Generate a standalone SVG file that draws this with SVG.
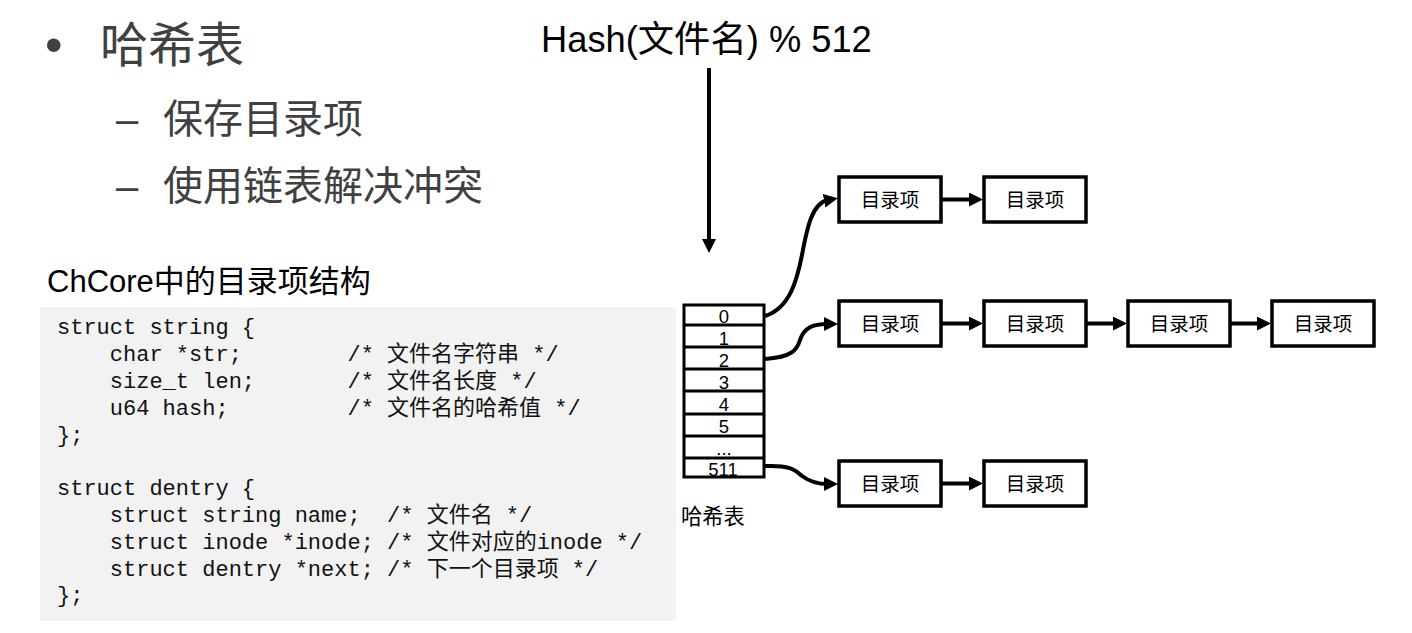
<svg xmlns="http://www.w3.org/2000/svg" width="1412" height="633" viewBox="0 0 1412 633">
<style>
.bul{font-family:"Liberation Sans","Noto Sans CJK SC",sans-serif;fill:#404040}
.sans{font-family:"Liberation Sans","Noto Sans CJK SC",sans-serif;fill:#000}
.code{font-family:"Liberation Mono","Noto Sans CJK SC",monospace;font-size:22px;fill:#111;white-space:pre}
.box{fill:#fff;stroke:#000;stroke-width:3.5}
.lbl{font-family:"Liberation Sans","Noto Sans CJK SC",sans-serif;font-size:19.5px;fill:#000;text-anchor:middle}
.cell{font-family:"Liberation Sans",sans-serif;font-size:18.5px;fill:#000;text-anchor:middle}
.conn{fill:none;stroke:#000;stroke-width:4}
</style>
<defs>
<marker id="ah" markerUnits="userSpaceOnUse" markerWidth="14" markerHeight="14" viewBox="0 0 14 14" refX="4" refY="7" orient="auto">
<path d="M0,0 L14,7 L0,14 z" fill="#000"/>
</marker>
</defs>
<rect width="1412" height="633" fill="#fff"/>

<g id="bullets">
<text class="bul" x="45" y="62" font-size="50">•</text>
<text class="bul" x="100" y="62" font-size="48">哈希表</text>
<text class="bul" x="116" y="133" font-size="40">–</text>
<text class="bul" x="163" y="133" font-size="40">保存目录项</text>
<text class="bul" x="116" y="200" font-size="40">–</text>
<text class="bul" x="163" y="200" font-size="40">使用链表解决冲突</text>
</g>

<g id="hash-formula">
<text class="sans" x="541" y="52" font-size="36.3">Hash(文件名) % 512</text>
</g>

<g id="code-title">
<text class="sans" x="47" y="292" font-size="31">ChCore中的目录项结构</text>
</g>

<g id="code-block">
<rect x="40" y="307" width="636" height="314" fill="#f2f2f2"/>
<text class="code" x="57" y="334">struct string {</text>
<text class="code" x="57" y="361">    char *str;        /* 文件名字符串 */</text>
<text class="code" x="57" y="388">    size_t len;       /* 文件名长度 */</text>
<text class="code" x="57" y="415">    u64 hash;         /* 文件名的哈希值 */</text>
<text class="code" x="57" y="442">};</text>
<text class="code" x="57" y="495">struct dentry {</text>
<text class="code" x="57" y="522">    struct string name;  /* 文件名 */</text>
<text class="code" x="57" y="549">    struct inode *inode; /* 文件对应的inode */</text>
<text class="code" x="57" y="576">    struct dentry *next; /* 下一个目录项 */</text>
<text class="code" x="57" y="602">};</text>
</g>

<g id="hash-table">
<rect x="684" y="305" width="80" height="172" fill="#fff" stroke="#000" stroke-width="3"/>
<path d="M684,325H764M684,347H764M684,369H764M684,391H764M684,414H764M684,436H764M684,458H764" stroke="#000" stroke-width="3" fill="none"/>
<text class="cell" x="724" y="323">0</text>
<text class="cell" x="724" y="345">1</text>
<text class="cell" x="724" y="367">2</text>
<text class="cell" x="724" y="389">3</text>
<text class="cell" x="724" y="411">4</text>
<text class="cell" x="724" y="433">5</text>
<text class="cell" x="724" y="455">...</text>
<text class="cell" x="723" y="476">511</text>
<text class="sans" x="681" y="524" font-size="21.3">哈希表</text>
</g>

<g id="n1-1"><rect class="box" x="839" y="177" width="102" height="45"/><text class="lbl" x="890" y="206.5">目录项</text></g>
<g id="n1-2"><rect class="box" x="984" y="177" width="102" height="45"/><text class="lbl" x="1035" y="206.5">目录项</text></g>
<g id="n2-1"><rect class="box" x="839" y="301" width="102" height="45"/><text class="lbl" x="890" y="330.5">目录项</text></g>
<g id="n2-2"><rect class="box" x="984" y="301" width="102" height="45"/><text class="lbl" x="1035" y="330.5">目录项</text></g>
<g id="n2-3"><rect class="box" x="1128" y="301" width="102" height="45"/><text class="lbl" x="1179" y="330.5">目录项</text></g>
<g id="n2-4"><rect class="box" x="1272" y="301" width="102" height="45"/><text class="lbl" x="1323" y="330.5">目录项</text></g>
<g id="n3-1"><rect class="box" x="839" y="461" width="102" height="45"/><text class="lbl" x="890" y="490.5">目录项</text></g>
<g id="n3-2"><rect class="box" x="984" y="461" width="102" height="45"/><text class="lbl" x="1035" y="490.5">目录项</text></g>

<g id="connectors">
<path class="conn" d="M709,68 V243" marker-end="url(#ah)"/>
<path class="conn" d="M765,316 C790,308 797,280 802,255 C807,228 812,203 828,200" marker-end="url(#ah)"/>
<path class="conn" d="M765,359 C792,357 797,350 800,340 C804,328 812,324 828,324" marker-end="url(#ah)"/>
<path class="conn" d="M765,466 C790,465 795,470 802,476 C810,482 818,484 828,484" marker-end="url(#ah)"/>
<path class="conn" d="M941,199.5 H973" marker-end="url(#ah)"/>
<path class="conn" d="M941,323.5 H973" marker-end="url(#ah)"/>
<path class="conn" d="M1086,323.5 H1117" marker-end="url(#ah)"/>
<path class="conn" d="M1230,323.5 H1261" marker-end="url(#ah)"/>
<path class="conn" d="M941,483.5 H973" marker-end="url(#ah)"/>
</g>
</svg>
